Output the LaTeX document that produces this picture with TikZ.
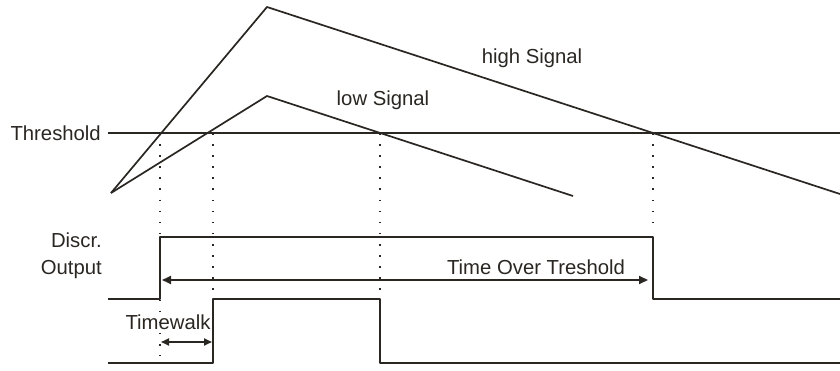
\documentclass[tikz,border=0pt]{standalone}
\usepackage{fontspec}
\setmainfont{Liberation Sans}
\usetikzlibrary{arrows.meta}
\definecolor{ink}{HTML}{2A2622}
\tikzset{
  sig/.style={draw=ink, line width=1.7pt},
  thr/.style={draw=ink, line width=2.3pt},
  pulse/.style={draw=ink, line width=2.1pt, line join=round},
  guide/.style={draw=ink, line width=1.5pt, dash pattern=on 1.6pt off 9.5pt},
  span/.style={draw=ink, line width=1.8pt, {Triangle[length=9pt,width=8pt]}-{Triangle[length=9pt,width=8pt]}},
  span2/.style={draw=ink, line width=1.8pt, {Triangle[length=8pt,width=7pt]}-{Triangle[length=8pt,width=7pt]}},
  lbl/.style={inner sep=0pt, font=\fontsize{20.3}{26.5}\selectfont, text=ink},
}
\begin{document}
\begin{tikzpicture}[x=1pt, y=-1pt]
\useasboundingbox (0,0) rectangle (840,371);

% signal shapes
\coordinate (s0) at (111,193);
\coordinate (hp) at (267,7);
\coordinate (he) at (840,194);
\coordinate (lp) at (267,96);
\coordinate (le) at (573,196);
\draw[sig] (s0) -- (hp) -- (he);
\draw[sig] (s0) -- (lp) -- (le);

% threshold level
\node[lbl, anchor=east] (thl) at (101,133) {Threshold};
\coordinate (th1) at (840,133);
\draw[thr] (thl.east -| 108,0) -- (th1);

% crossing points
\coordinate (c1) at (160,133);
\coordinate (c2) at (213,133);
\coordinate (c3) at (380,133);
\coordinate (c4) at (653,133);

% guides down to the discriminator outputs
\draw[guide] (c1) -- (160,356);
\draw[guide] (c2) -- (213,292);
\draw[guide] (c3) -- (380,292);
\draw[guide] (c4) -- (653,226);

% discriminator output, high signal
\draw[pulse] (108,299) -- (160,299) -- (160,237) -- (653,237) -- (653,299) -- (840,299);
% discriminator output, low signal
\draw[pulse] (108,363) -- (213,363) -- (213,299) -- (380,299) -- (380,363) -- (840,363);

% labels
\node[lbl] (hs) at (532,58) {high Signal};
\node[lbl] (ls) at (383,100) {low Signal};
\node[lbl, align=right, anchor=east] (dout) at (102,256) {Discr.\\Output};

% time over threshold
\coordinate (tot0) at (162,280);
\coordinate (tot1) at (648,280);
\draw[span] (tot0) -- (tot1);
\node[lbl] (totl) at (536,267) {Time Over Treshold};

% timewalk
\coordinate (tw0) at (161,342);
\coordinate (tw1) at (212,342);
\draw[span2] (tw0) -- (tw1);
\node[lbl] (twl) at (168,322) {Timewalk};
\end{tikzpicture}
\end{document}
